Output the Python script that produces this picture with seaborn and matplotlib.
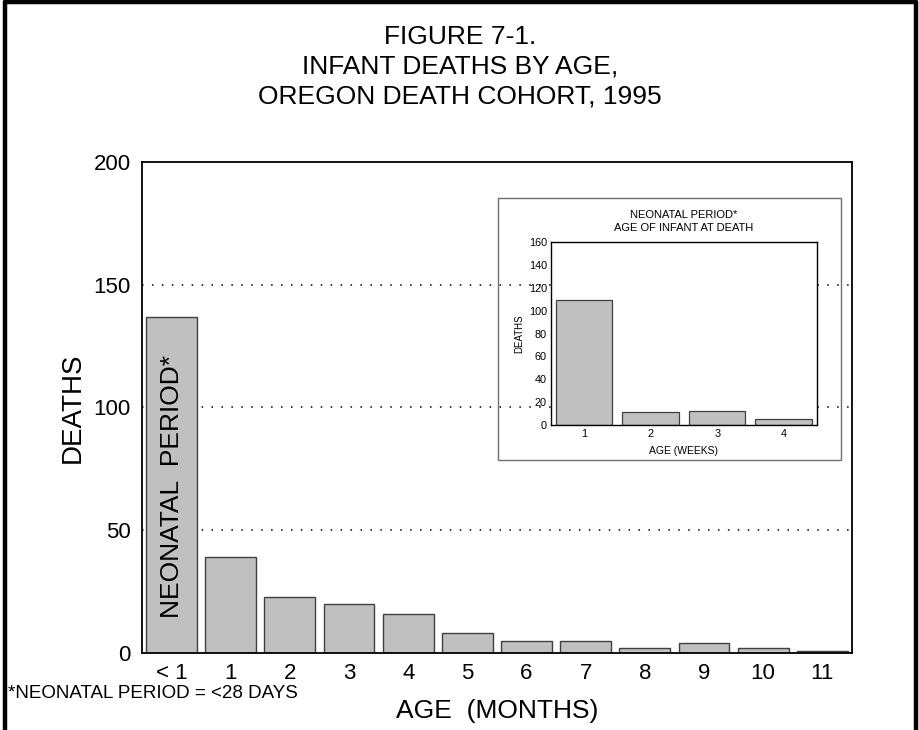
import numpy as np
import pandas as pd
import seaborn as sns
import matplotlib.pyplot as plt
from matplotlib.lines import Line2D
from matplotlib.patches import Rectangle

# Data
months = ['< 1', '1', '2', '3', '4', '5', '6', '7', '8', '9', '10', '11']
month_deaths = [137, 39, 23, 20, 16, 8, 5, 5, 2, 4, 2, 1]

weeks = ['1', '2', '3', '4']
week_deaths = [109, 11, 12, 5]

main_yticks = [0, 50, 100, 150, 200]
grid_levels = [50, 100, 150]
inset_yticks = [0, 20, 40, 60, 80, 100, 120, 140, 160]

sns.set_style('white')
plt.rcParams['font.family'] = ['Liberation Sans', 'DejaVu Sans']
plt.rcParams['text.color'] = 'black'
plt.rcParams['axes.labelcolor'] = 'black'
plt.rcParams['xtick.color'] = 'black'
plt.rcParams['ytick.color'] = 'black'

bar_fill = '#c0c0c0'
bar_edge = '#404040'

df_month = pd.DataFrame({'age': months, 'deaths': month_deaths})
df_week = pd.DataFrame({'age': weeks, 'deaths': week_deaths})

fig = plt.figure(figsize=(9.2, 7.3), dpi=100)

# Main chart
ax = fig.add_axes([0.1543, 0.1055, 0.7717, 0.6726])
for lvl in grid_levels:
    ax.axhline(lvl, color='black', lw=1.1, ls=(0, (1, 5.5)), zorder=0)
sns.barplot(data=df_month, x='age', y='deaths', order=months, color=bar_fill,
            edgecolor=bar_edge, linewidth=1, width=0.86, saturation=1, ax=ax, zorder=2)
ax.set_xlim(-0.5, len(months) - 0.5)
ax.set_ylim(0, 200)
ax.set_yticks(main_yticks)
ax.tick_params(axis='both', length=0, labelsize=16)
ax.tick_params(axis='y', pad=8)
ax.tick_params(axis='x', pad=7)
for s in ax.spines.values():
    s.set_color('black')
    s.set_linewidth(1.3)
ax.set_xlabel('AGE  (MONTHS)', fontsize=19, labelpad=11)
ax.set_ylabel('DEATHS', fontsize=20, labelpad=6)
ax.text(0, 68, 'NEONATAL  PERIOD*', rotation=90, ha='center', va='center',
        fontsize=19, zorder=3)

# Titles
fig.text(0.5, 0.950, 'FIGURE 7-1.', ha='center', va='center', fontsize=19)
fig.text(0.5, 0.909, 'INFANT DEATHS BY AGE,', ha='center', va='center', fontsize=19)
fig.text(0.5, 0.868, 'OREGON DEATH COHORT, 1995', ha='center', va='center', fontsize=19)
fig.text(0.009, 0.050, '*NEONATAL PERIOD = <28 DAYS', ha='left', va='center', fontsize=13.5)

# Inset frame
fig.add_artist(Rectangle((0.5413, 0.3699), 0.3728, 0.3589, transform=fig.transFigure,
                         fill=False, edgecolor='#707070', lw=1, zorder=5))

# Inset chart
iax = fig.add_axes([0.5989, 0.4178, 0.2891, 0.2507], zorder=6)
iax.set_facecolor('white')
sns.barplot(data=df_week, x='age', y='deaths', order=weeks, color=bar_fill,
            edgecolor=bar_edge, linewidth=0.9, width=0.85, saturation=1, ax=iax)
iax.set_xlim(-0.5, len(weeks) - 0.5)
iax.set_ylim(0, 160)
iax.set_yticks(inset_yticks)
iax.tick_params(axis='both', length=0, labelsize=7.8, pad=3)
for s in iax.spines.values():
    s.set_color('black')
    s.set_linewidth(1)
iax.set_xlabel('AGE (WEEKS)', fontsize=7.5, labelpad=5)
iax.set_ylabel('DEATHS', fontsize=7, labelpad=3)
iax.set_title('NEONATAL PERIOD*\nAGE OF INFANT AT DEATH', fontsize=8, pad=8, linespacing=1.3)

# Outer border (left, top, right)
for xs, ys in [([0.005, 0.005], [0, 0.997]), ([0.005, 0.996], [0.997, 0.997]),
               ([0.996, 0.996], [0, 0.997])]:
    fig.add_artist(Line2D(xs, ys, transform=fig.transFigure, color='black', lw=3.2))

fig.savefig('out.png', dpi=100)
